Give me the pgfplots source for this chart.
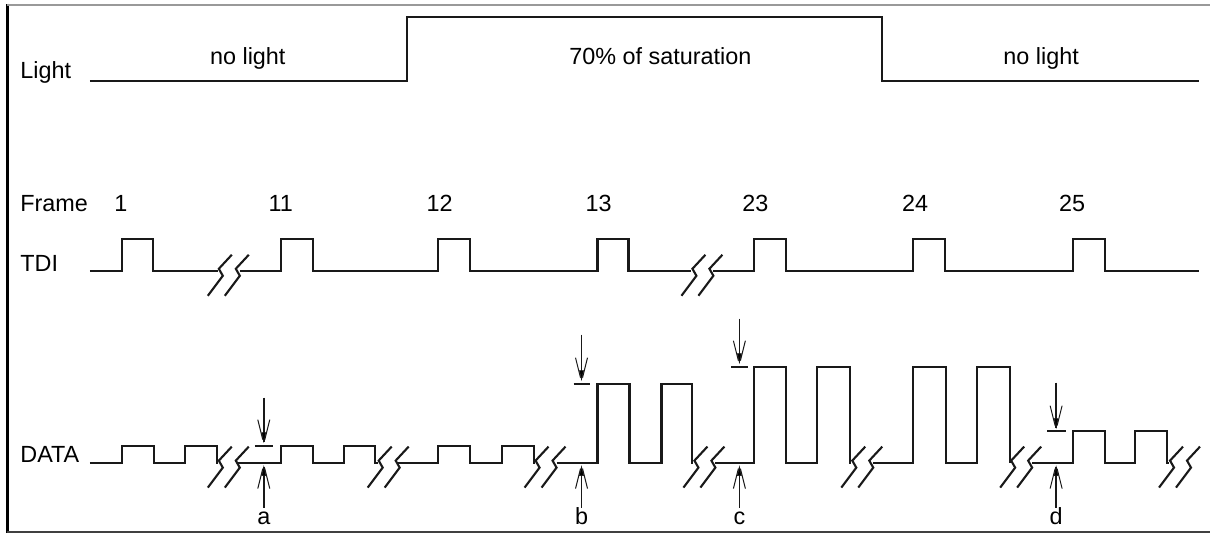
\documentclass[border=0pt]{standalone}
\usepackage{pgfplots}
\pgfplotsset{compat=1.18}
\usepackage{fontspec}
\setmainfont{Liberation Sans}
\begin{document}
\fontsize{11.7}{14}\selectfont
\begin{tikzpicture}
\begin{axis}[
  x=0.5pt, y=0.5pt, xmin=0, xmax=1211, ymin=0, ymax=534,
  y dir=reverse, hide axis, clip=false,
  cycle list={black!90},
  every axis plot/.append style={black!90, solid, mark=none, line width=1.05pt, line join=miter},
]
% bounding box
\addplot[draw=none] coordinates {(0,0) (1211,534)};
% frame
\addplot[line width=1.5pt, black] coordinates {(7.5,4) (7.5,533)};
\addplot[line width=1pt, gray!80] coordinates {(7,5) (1211,5)};
\addplot[line width=1pt, black!75] coordinates {(7,532) (1211,532)};
% Light
\addplot coordinates {(90,81) (407,81) (407,17) (883,17) (883,81) (1200,81)};
% TDI
\addplot coordinates {(90,271) (122,271) (122,239) (153,239) (153,271) (218,271)};
\addplot coordinates {(240,271) (281,271) (281,239) (313,239) (313,271) (438,271) (438,239) (470,239) (470,271) (598,271) (598,239) (629,239) (629,271) (692,271)};
\addplot coordinates {(714,271) (755,271) (755,239) (787,239) (787,271) (914,271) (914,239) (946,239) (946,271) (1074,271) (1074,239) (1106,239) (1106,271) (1200,271)};
% TDI breaks
\addplot coordinates {(232,255) (219,269) (223,276) (208,296)};
\addplot coordinates {(249,255) (236,269) (240,276) (225,296)};
\addplot coordinates {(706,255) (693,269) (697,276) (682,296)};
\addplot coordinates {(723,255) (710,269) (714,276) (699,296)};
% DATA
\addplot coordinates {(90,463) (122,463) (122,446) (154,446) (154,463) (185,463) (185,446) (217,446) (217,463) (218,463)};
\addplot coordinates {(238,463) (281,463) (281,446) (313,446) (313,463) (344,463) (344,446) (375,446) (375,463) (378,463)};
\addplot coordinates {(398,463) (438,463) (438,446) (470,446) (470,463) (502,463) (502,446) (534,446) (534,463) (535,463)};
\addplot coordinates {(557,463) (598,463) (598,384) (630,384) (630,463) (662,463) (662,384) (693,384) (693,463) (694,463)};
\addplot coordinates {(716,463) (755,463) (755,367) (787,367) (787,463) (818,463) (818,367) (851,367) (851,463) (852,463)};
\addplot coordinates {(874,463) (914,463) (914,367) (947,367) (947,463) (978,463) (978,367) (1011,367) (1011,463)};
\addplot coordinates {(1033,463) (1074,463) (1074,431) (1106,431) (1106,463) (1136,463) (1136,431) (1168,431) (1168,463) (1170,463)};
% DATA breaks
\addplot coordinates {(232,447) (219,461) (223,468) (208,488)};
\addplot coordinates {(249,447) (236,461) (240,468) (225,488)};
\addplot coordinates {(392,447) (379,461) (383,468) (368,488)};
\addplot coordinates {(409,447) (396,461) (400,468) (385,488)};
\addplot coordinates {(549,447) (536,461) (540,468) (525,488)};
\addplot coordinates {(566,447) (553,461) (557,468) (542,488)};
\addplot coordinates {(708,447) (695,461) (699,468) (684,488)};
\addplot coordinates {(725,447) (712,461) (716,468) (701,488)};
\addplot coordinates {(866,447) (853,461) (857,468) (842,488)};
\addplot coordinates {(883,447) (870,461) (874,468) (859,488)};
\addplot coordinates {(1025,447) (1012,461) (1016,468) (1001,488)};
\addplot coordinates {(1042,447) (1029,461) (1033,468) (1018,488)};
\addplot coordinates {(1184,447) (1171,461) (1175,468) (1160,488)};
\addplot coordinates {(1201,447) (1188,461) (1192,468) (1177,488)};
% ticks at levels
\addplot coordinates {(255,446) (273,446)};
\addplot coordinates {(574,384) (590,384)};
\addplot coordinates {(732,367) (749,367)};
\addplot coordinates {(1048,431) (1067,431)};
% down arrows
\addplot[line width=0.8pt] coordinates {(264,398) (264,442)};
\addplot[line width=0.5pt] coordinates {(258,420) (263,440)};
\addplot[line width=0.5pt] coordinates {(270,420) (265,440)};
\addplot[fill=black, line width=0.3pt] coordinates {(262,433) (266,433) (264,442)} -- cycle;
\addplot[line width=0.8pt] coordinates {(582,335) (582,380)};
\addplot[line width=0.5pt] coordinates {(576,358) (581,378)};
\addplot[line width=0.5pt] coordinates {(588,358) (583,378)};
\addplot[fill=black, line width=0.3pt] coordinates {(580,371) (584,371) (582,380)} -- cycle;
\addplot[line width=0.8pt] coordinates {(740,319) (740,363)};
\addplot[line width=0.5pt] coordinates {(734,341) (739,361)};
\addplot[line width=0.5pt] coordinates {(746,341) (741,361)};
\addplot[fill=black, line width=0.3pt] coordinates {(738,354) (742,354) (740,363)} -- cycle;
\addplot[line width=0.8pt] coordinates {(1057,383) (1057,428)};
\addplot[line width=0.5pt] coordinates {(1051,406) (1056,426)};
\addplot[line width=0.5pt] coordinates {(1063,406) (1058,426)};
\addplot[fill=black, line width=0.3pt] coordinates {(1055,419) (1059,419) (1057,428)} -- cycle;
% up arrows
\addplot[line width=0.8pt] coordinates {(264,508) (264,467)};
\addplot[line width=0.5pt] coordinates {(258,489) (263,469)};
\addplot[line width=0.5pt] coordinates {(270,489) (265,469)};
\addplot[fill=black, line width=0.3pt] coordinates {(262,476) (266,476) (264,467)} -- cycle;
\addplot[line width=0.8pt] coordinates {(582,508) (582,467)};
\addplot[line width=0.5pt] coordinates {(576,489) (581,469)};
\addplot[line width=0.5pt] coordinates {(588,489) (583,469)};
\addplot[fill=black, line width=0.3pt] coordinates {(580,476) (584,476) (582,467)} -- cycle;
\addplot[line width=0.8pt] coordinates {(740,508) (740,467)};
\addplot[line width=0.5pt] coordinates {(734,489) (739,469)};
\addplot[line width=0.5pt] coordinates {(746,489) (741,469)};
\addplot[fill=black, line width=0.3pt] coordinates {(738,476) (742,476) (740,467)} -- cycle;
\addplot[line width=0.8pt] coordinates {(1057,508) (1057,467)};
\addplot[line width=0.5pt] coordinates {(1051,489) (1056,469)};
\addplot[line width=0.5pt] coordinates {(1063,489) (1058,469)};
\addplot[fill=black, line width=0.3pt] coordinates {(1055,476) (1059,476) (1057,467)} -- cycle;
% texts
\node[anchor=base west, inner sep=0pt, black] at (axis cs:20,79) {Light};
\node[anchor=base, inner sep=0pt, black] at (axis cs:248,65) {no light};
\node[anchor=base, inner sep=0pt, black] at (axis cs:661,65) {70\% of saturation};
\node[anchor=base, inner sep=0pt, black] at (axis cs:1042,65) {no light};
\node[anchor=base west, inner sep=0pt, black] at (axis cs:20,212) {Frame};
\node[anchor=base, inner sep=0pt, black] at (axis cs:121,212) {1};
\node[anchor=base, inner sep=0pt, black] at (axis cs:281,212) {11};
\node[anchor=base, inner sep=0pt, black] at (axis cs:440,212) {12};
\node[anchor=base, inner sep=0pt, black] at (axis cs:599,212) {13};
\node[anchor=base, inner sep=0pt, black] at (axis cs:756,212) {23};
\node[anchor=base, inner sep=0pt, black] at (axis cs:916,212) {24};
\node[anchor=base, inner sep=0pt, black] at (axis cs:1073,212) {25};
\node[anchor=base west, inner sep=0pt, black] at (axis cs:20,272) {TDI};
\node[anchor=base west, inner sep=0pt, black] at (axis cs:20,463) {DATA};
\node[anchor=base, inner sep=0pt, black] at (axis cs:264,525) {a};
\node[anchor=base, inner sep=0pt, black] at (axis cs:582,525) {b};
\node[anchor=base, inner sep=0pt, black] at (axis cs:740,525) {c};
\node[anchor=base, inner sep=0pt, black] at (axis cs:1057,525) {d};
\end{axis}
\end{tikzpicture}
\end{document}
